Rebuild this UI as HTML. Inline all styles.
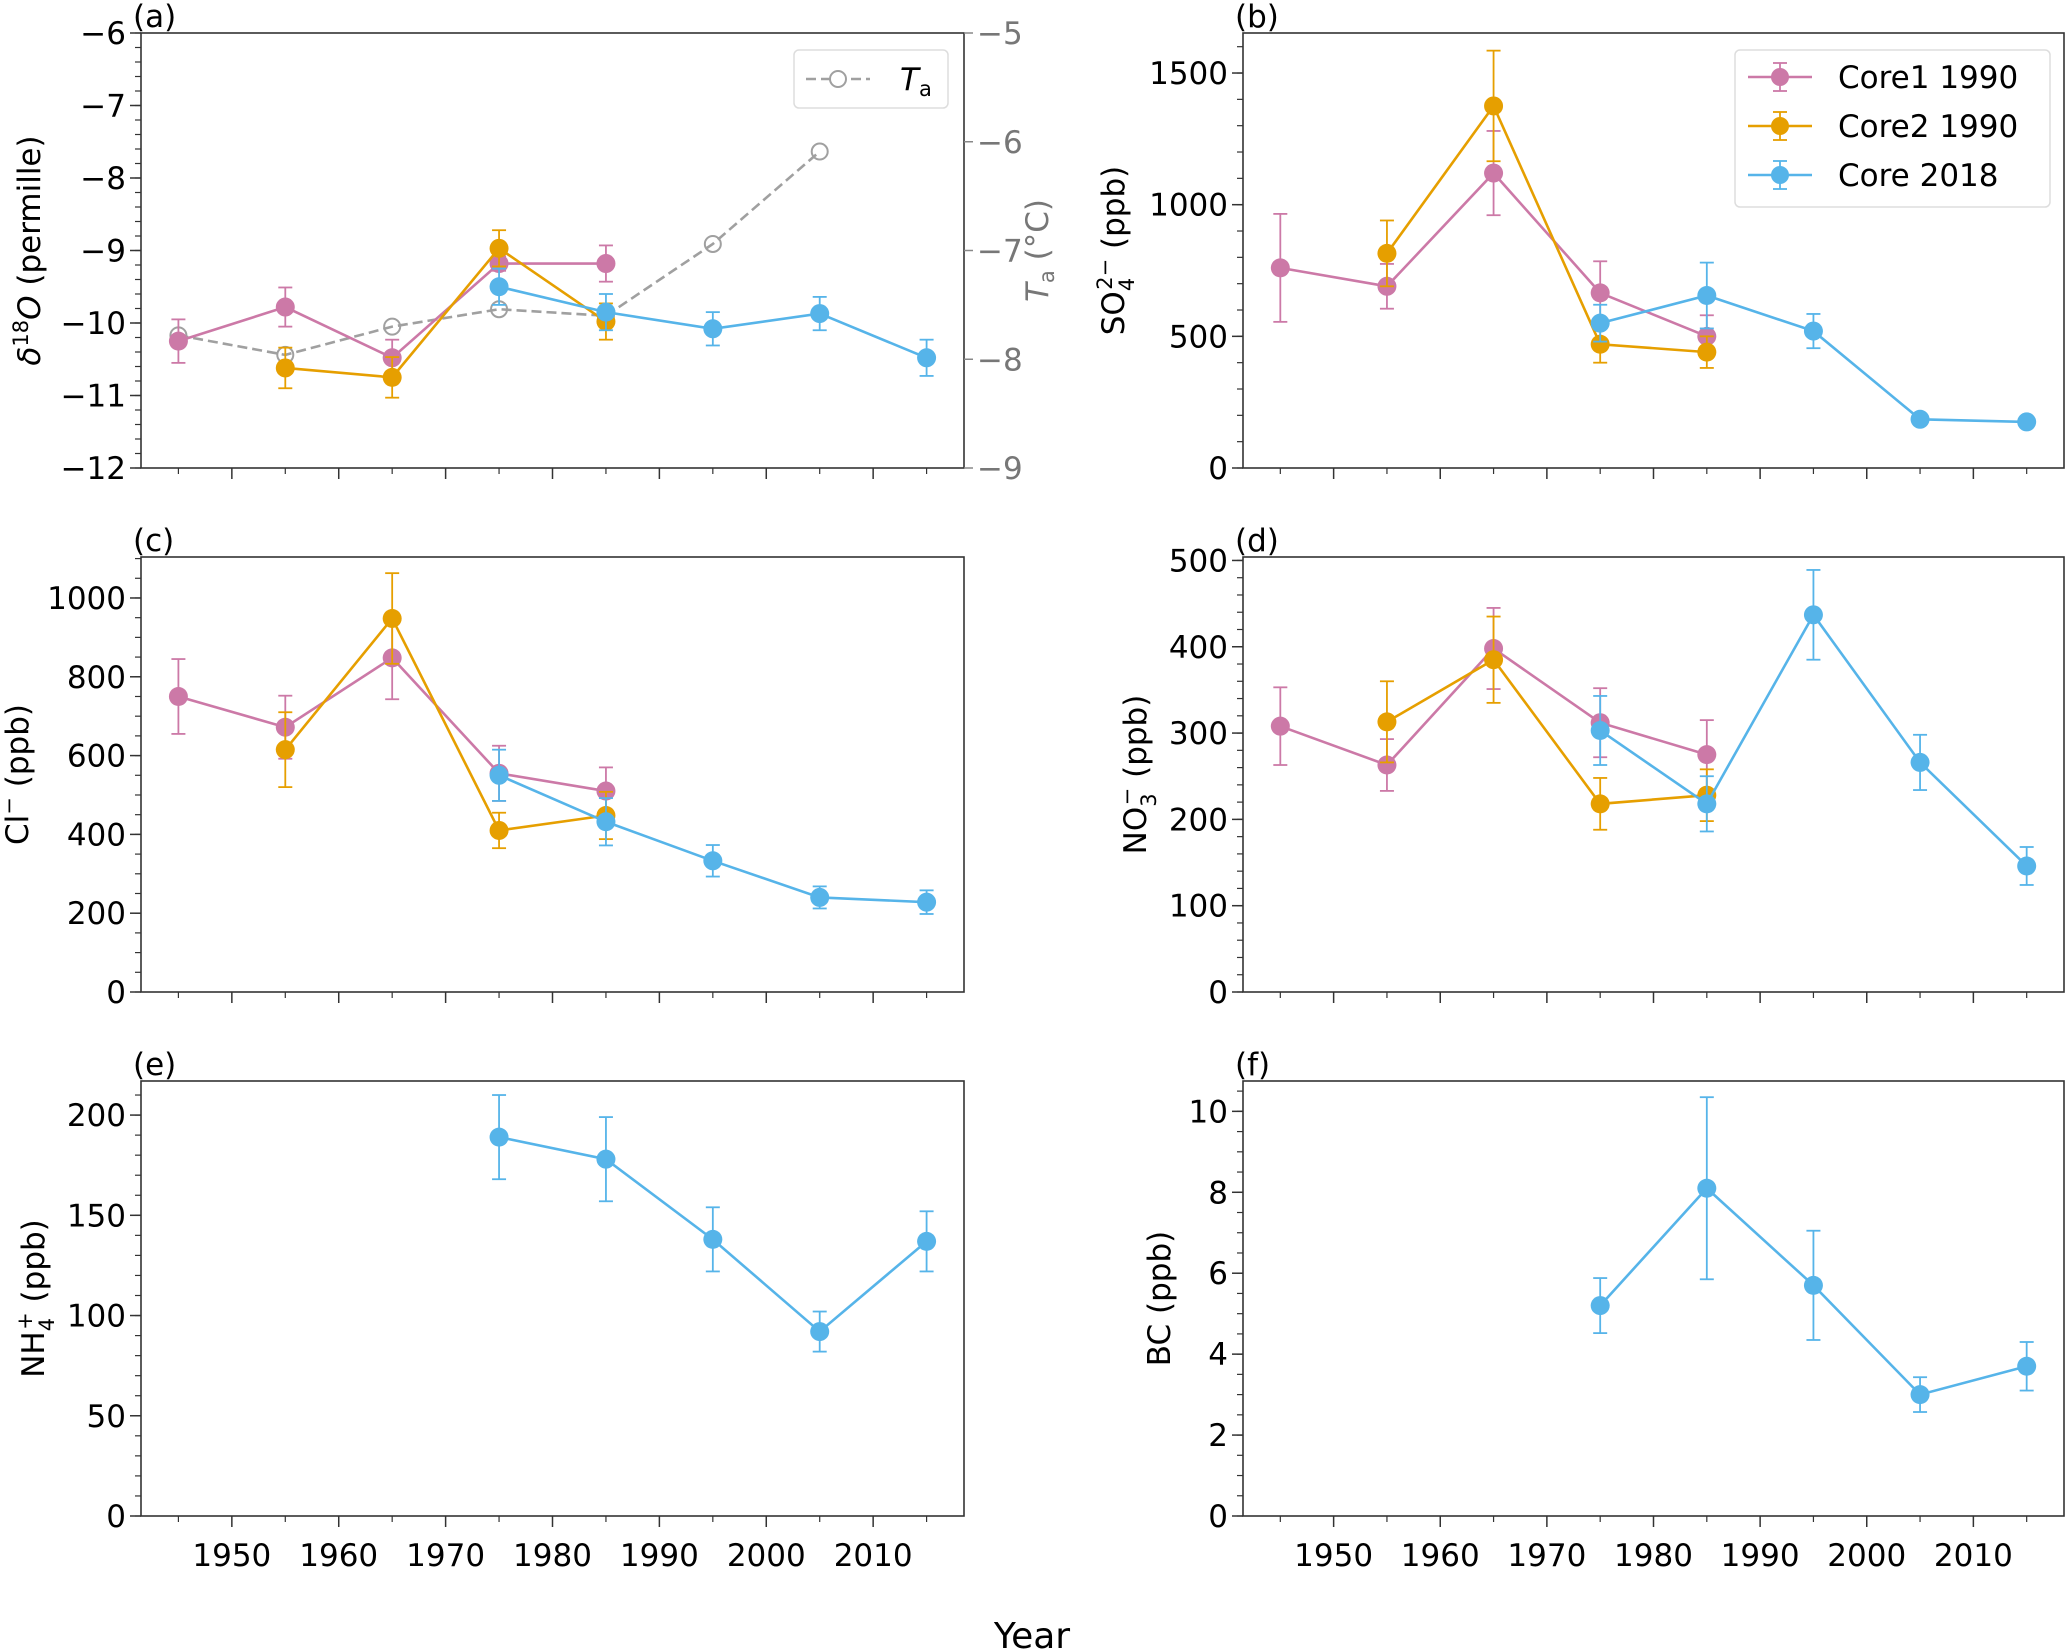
<!DOCTYPE html>
<html><head><meta charset="utf-8">
<style>
html,body{margin:0;padding:0;background:#fff;}
svg{display:block;font-family:"DejaVu Sans","Liberation Sans",sans-serif;}
</style></head>
<body>
<svg id="fig" width="2067" height="1650" viewBox="0 0 2067 1650" xmlns="http://www.w3.org/2000/svg"></svg>
<script>
// ---- data ----
const years = [1945,1955,1965,1975,1985,1995,2005,2015];
const xTicks = [1950,1960,1970,1980,1990,2000,2010];
// (a) d18O
const d18o_core1 = [-10.25,-9.78,-10.48,-9.18,-9.18,null,null,null];
const d18o_core1_err = [0.3,0.27,0.25,0.1,0.25,null,null,null];
const d18o_core2 = [null,-10.62,-10.75,-8.97,-9.98,null,null,null];
const d18o_core2_err = [null,0.28,0.28,0.25,0.25,null,null,null];
const d18o_core18 = [null,null,null,-9.5,-9.85,-10.08,-9.87,-10.48];
const d18o_core18_err = [null,null,null,0.25,0.25,0.23,0.23,0.25];
const ta_values = [-7.78,-7.96,-7.7,-7.54,-7.6,-6.94,-6.09,null];
const d18oTicks = [-12,-11,-10,-9,-8,-7,-6];
const taTicks = [-9,-8,-7,-6,-5];
// (b) SO4
const so4_core1 = [760,690,1120,665,500,null,null,null];
const so4_core1_err = [205,85,160,120,80,null,null,null];
const so4_core2 = [null,815,1375,470,440,null,null,null];
const so4_core2_err = [null,125,210,70,60,null,null,null];
const so4_core18 = [null,null,null,550,655,520,185,175];
const so4_core18_err = [null,null,null,70,125,65,20,20];
const so4Ticks = [0,500,1000,1500];
// (c) Cl
const cl_core1 = [750,672,848,555,510,null,null,null];
const cl_core1_err = [95,80,105,70,60,null,null,null];
const cl_core2 = [null,615,948,410,448,null,null,null];
const cl_core2_err = [null,95,115,45,60,null,null,null];
const cl_core18 = [null,null,null,550,432,333,240,228];
const cl_core18_err = [null,null,null,65,60,40,28,30];
const clTicks = [0,200,400,600,800,1000];
// (d) NO3
const no3_core1 = [308,263,398,312,275,null,null,null];
const no3_core1_err = [45,30,47,40,40,null,null,null];
const no3_core2 = [null,313,385,218,228,null,null,null];
const no3_core2_err = [null,47,50,30,30,null,null,null];
const no3_core18 = [null,null,null,303,218,437,266,146];
const no3_core18_err = [null,null,null,40,32,52,32,22];
const no3Ticks = [0,100,200,300,400,500];
// (e) NH4
const nh4_core18 = [null,null,null,189,178,138,92,137];
const nh4_core18_err = [null,null,null,21,21,16,10,15];
const nh4Ticks = [0,50,100,150,200];
// (f) BC
const bc_core18 = [null,null,null,5.2,8.1,5.7,3.0,3.7];
const bc_core18_err = [null,null,null,0.68,2.25,1.35,0.43,0.6];
const bcTicks = [0,2,4,6,8,10];

const PINK="#CC79A7", ORANGE="#E69F00", BLUE="#56B4E9";
const NS="http://www.w3.org/2000/svg";
const svg=document.getElementById('fig');
function mk(tag,attrs,parent){const e=document.createElementNS(NS,tag);for(const k in attrs)e.setAttribute(k,attrs[k]);(parent||svg).appendChild(e);return e;}

const XMIN=1941.5, XMAX=2018.5;
function panel(o){
  const g=mk('g',{});
  
  
  const sx=v=>o.x0+(v-XMIN)/(XMAX-XMIN)*(o.x1-o.x0);
  const sy=v=>o.y1-(v-o.ymin)/(o.ymax-o.ymin)*(o.y1-o.y0);
  const fr=mk('rect',{x:o.x0,y:o.y0,width:o.x1-o.x0,height:o.y1-o.y0,fill:'none',stroke:'#333','stroke-width':1.6},g);
  
  
  // x ticks
  xTicks.forEach(t=>{mk('line',{x1:sx(t),x2:sx(t),y1:o.y1,y2:o.y1+11,stroke:'#333','stroke-width':1.5},g);
    if(o.xlabels){const tx=mk('text',{x:sx(t),y:o.y1+50,'font-size':31,'text-anchor':'middle',fill:'#000'},g);tx.textContent=t;
      
      }});
  years.forEach(t=>mk('line',{x1:sx(t),x2:sx(t),y1:o.y1,y2:o.y1+6,stroke:'#333','stroke-width':1.2},g));
  // y ticks
  for(let v=o.ymin;v<=o.ymax+1e-9;v+=o.minor){mk('line',{x1:o.x0-6,x2:o.x0,y1:sy(v),y2:sy(v),stroke:'#333','stroke-width':1.2},g);}
  o.ticks.forEach(t=>{mk('line',{x1:o.x0-11,x2:o.x0,y1:sy(t),y2:sy(t),stroke:'#333','stroke-width':1.5},g);
    const tx=mk('text',{x:o.x0-15,y:sy(t)+11,'font-size':31,'text-anchor':'end',fill:'#000'},g);tx.textContent=String(t).replace('-','\u2212');
    
    });
  // label
  const lab=mk('text',{x:o.x0-8,y:o.y0-6,'font-size':31,fill:'#000'},g);lab.textContent=o.letter;
  
  
  const yl=mk('text',{transform:`translate(${o.ylx},${(o.y0+o.y1)/2}) rotate(-90)`,'font-size':31,'text-anchor':'middle',fill:'#000'},g);
  yl.innerHTML=o.ylabel;
  
  
  return {g,sx,sy};
}
function series(p,vals,errs,color,name){
  const g=mk('g',{},p.g);
  
  
  const pts=[];
  vals.forEach((v,i)=>{if(v===null)return;pts.push([p.sx(years[i]),p.sy(v)]);
    if(errs&&errs[i]!=null){const x=p.sx(years[i]),a=p.sy(v+errs[i]),b=p.sy(v-errs[i]);
      mk('line',{x1:x,x2:x,y1:a,y2:b,stroke:color,'stroke-width':1.8},g);
      mk('line',{x1:x-7,x2:x+7,y1:a,y2:a,stroke:color,'stroke-width':1.8},g);
      mk('line',{x1:x-7,x2:x+7,y1:b,y2:b,stroke:color,'stroke-width':1.8},g);}});
  mk('polyline',{points:pts.map(q=>q.join(',')).join(' '),fill:'none',stroke:color,'stroke-width':2.6},g);
  pts.forEach(q=>{const c=mk('circle',{cx:q[0],cy:q[1],r:9.5,fill:color},g);
    
    });
}
const LX0=141,LX1=964,RX0=1243,RX1=2064;
const TOPS=[33,557,1081],H=435;

// (a)
const pa=panel({name:'panel-a-d18o',x0:LX0,x1:LX1,y0:TOPS[0],y1:TOPS[0]+H,ymin:-12,ymax:-6,ticks:d18oTicks,minor:0.2,letter:'(a)',ylx:40,xlabels:false,
  ylabel:'<tspan font-style="italic">δ</tspan><tspan font-size="21" dy="-12">18</tspan><tspan dy="12" font-style="italic">O</tspan> (permille)'});
// right axis
(function(){
  const syT=v=>TOPS[0]+H-(v+9)/4*H;
  const g=mk('g',{},pa.g);
  
  
  taTicks.forEach(t=>{mk('line',{x1:LX1,x2:LX1+9,y1:syT(t),y2:syT(t),stroke:'#888','stroke-width':1.5},g);
    const tx=mk('text',{x:LX1+13,y:syT(t)+11,'font-size':31,fill:'#777'},g);tx.textContent='\u2212'+Math.abs(t);});
  const yl=mk('text',{transform:`translate(1048,${TOPS[0]+H/2}) rotate(-90)`,'font-size':31,'text-anchor':'middle',fill:'#777'},g);
  yl.innerHTML='<tspan font-style="italic">T</tspan><tspan font-size="21" dy="6">a</tspan><tspan dy="-6"> (°C)</tspan>';
  
  
  const pts=[];ta_values.forEach((v,i)=>{if(v!==null)pts.push([pa.sx(years[i]),syT(v)]);});
  mk('polyline',{points:pts.map(q=>q.join(',')).join(' '),fill:'none',stroke:'#a0a0a0','stroke-width':2.6,'stroke-dasharray':'10,5'},g);
  pts.forEach(q=>{const c=mk('circle',{cx:q[0],cy:q[1],r:8,fill:'none',stroke:'#a0a0a0','stroke-width':2},g);
    
    });
  // legend
  const lg=mk('g',{},pa.g);
  
  
  mk('rect',{x:794,y:50,width:154,height:58,rx:5,fill:'#fff',stroke:'#ddd','stroke-width':1.5},lg);
  mk('line',{x1:806,x2:870,y1:79,y2:79,stroke:'#a0a0a0','stroke-width':2.6,'stroke-dasharray':'10,5'},lg);
  mk('circle',{cx:838,cy:79,r:8,fill:'#fff',stroke:'#a0a0a0','stroke-width':2},lg);
  const lt=mk('text',{x:900,y:90,'font-size':31,fill:'#000'},lg);
  lt.innerHTML='<tspan font-style="italic">T</tspan><tspan font-size="21" dy="6">a</tspan>';
})();
series(pa,d18o_core1,d18o_core1_err,PINK,'series-core1-1990');
series(pa,d18o_core2,d18o_core2_err,ORANGE,'series-core2-1990');
series(pa,d18o_core18,d18o_core18_err,BLUE,'series-core-2018');

// (b)
const pb=panel({name:'panel-b-so4',x0:RX0,x1:RX1,y0:TOPS[0],y1:TOPS[0]+H,ymin:0,ymax:1652,ticks:so4Ticks,minor:100,letter:'(b)',ylx:1124,xlabels:false,
  ylabel:'SO<tspan font-size="21" dy="10">4</tspan><tspan font-size="21" dx="-12" dy="-22">2−</tspan><tspan dy="12"> (ppb)</tspan>'});
series(pb,so4_core1,so4_core1_err,PINK,'series-core1-1990');
series(pb,so4_core2,so4_core2_err,ORANGE,'series-core2-1990');
series(pb,so4_core18,so4_core18_err,BLUE,'series-core-2018');
(function(){
  const lg=mk('g',{},pb.g);
  
  
  mk('rect',{x:1735,y:50,width:315,height:157,rx:5,fill:'#fff',stroke:'#ddd','stroke-width':1.5},lg);
  [['Core1 1990',PINK],['Core2 1990',ORANGE],['Core 2018',BLUE]].forEach((e,i)=>{
    const y=77+i*49;
    const it=mk('g',{},lg);
    
    
    mk('line',{x1:1748,x2:1812,y1:y,y2:y,stroke:e[1],'stroke-width':2.6},it);
    mk('line',{x1:1780,x2:1780,y1:y-14,y2:y+14,stroke:e[1],'stroke-width':1.8},it);
    mk('line',{x1:1773,x2:1787,y1:y-14,y2:y-14,stroke:e[1],'stroke-width':1.8},it);
    mk('line',{x1:1773,x2:1787,y1:y+14,y2:y+14,stroke:e[1],'stroke-width':1.8},it);
    mk('circle',{cx:1780,cy:y,r:9,fill:e[1]},it);
    const t=mk('text',{x:1838,y:y+11,'font-size':31,fill:'#000'},it);t.textContent=e[0];
  });
})();

// (c)
const pc=panel({name:'panel-c-cl',x0:LX0,x1:LX1,y0:TOPS[1],y1:TOPS[1]+H,ymin:0,ymax:1104,ticks:clTicks,minor:50,letter:'(c)',ylx:28,xlabels:false,
  ylabel:'Cl<tspan font-size="21" dy="-12">−</tspan><tspan dy="12"> (ppb)</tspan>'});
series(pc,cl_core1,cl_core1_err,PINK,'series-core1-1990');
series(pc,cl_core2,cl_core2_err,ORANGE,'series-core2-1990');
series(pc,cl_core18,cl_core18_err,BLUE,'series-core-2018');

// (d)
const pd=panel({name:'panel-d-no3',x0:RX0,x1:RX1,y0:TOPS[1],y1:TOPS[1]+H,ymin:0,ymax:504,ticks:no3Ticks,minor:20,letter:'(d)',ylx:1146,xlabels:false,
  ylabel:'NO<tspan font-size="21" dy="10">3</tspan><tspan font-size="21" dx="-12" dy="-22">−</tspan><tspan dy="12"> (ppb)</tspan>'});
series(pd,no3_core1,no3_core1_err,PINK,'series-core1-1990');
series(pd,no3_core2,no3_core2_err,ORANGE,'series-core2-1990');
series(pd,no3_core18,no3_core18_err,BLUE,'series-core-2018');

// (e)
const pe=panel({name:'panel-e-nh4',x0:LX0,x1:LX1,y0:TOPS[2],y1:TOPS[2]+H,ymin:0,ymax:217,ticks:nh4Ticks,minor:10,letter:'(e)',ylx:44,xlabels:true,
  ylabel:'NH<tspan font-size="21" dy="10">4</tspan><tspan font-size="21" dx="-12" dy="-22">+</tspan><tspan dy="12"> (ppb)</tspan>'});
series(pe,nh4_core18,nh4_core18_err,BLUE,'series-core-2018');

// (f)
const pf=panel({name:'panel-f-bc',x0:RX0,x1:RX1,y0:TOPS[2],y1:TOPS[2]+H,ymin:0,ymax:10.75,ticks:bcTicks,minor:0.5,letter:'(f)',ylx:1170,xlabels:true,
  ylabel:'BC (ppb)'});
series(pf,bc_core18,bc_core18_err,BLUE,'series-core-2018');

const xt=mk('text',{x:1032,y:1648,'font-size':36,'text-anchor':'middle',fill:'#000'});
xt.textContent='Year';


</script>
</body></html>
